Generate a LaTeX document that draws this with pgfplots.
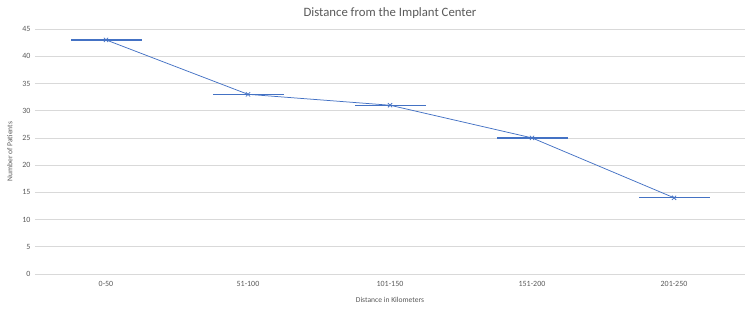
\documentclass[border=0pt]{standalone}
\usepackage{fontspec}
\setmainfont{Carlito}
\usepackage{pgfplots}
\pgfplotsset{compat=1.18}
\definecolor{ser}{HTML}{4472C4}
\definecolor{gridc}{HTML}{D9D9D9}
\definecolor{txt}{HTML}{595959}
\begin{document}
\begin{tikzpicture}
\begin{axis}[
  scale only axis, width=710bp, height=245bp,
  xmin=-0.5, xmax=4.5, ymin=0, ymax=45,
  xtick={0,1,2,3,4},
  xticklabels={0-50,51-100,101-150,151-200,201-250},
  ytick={0,5,...,45},
  ymajorgrids, grid style={gridc, line width=0.75bp},
  axis line style={draw=none},
  major tick length=0pt,
  /pgf/number format/assume math mode=true,
  tick label style={font=\fontsize{8}{9}\selectfont, text=txt},
  xticklabel style={yshift=-4bp},
  yticklabel style={xshift=-1bp},
  title={Distance from the Implant Center},
  title style={font=\fontsize{12.8}{14}\selectfont, text=txt, at={(0.5,1)}, anchor=south, yshift=0.5bp},
  xlabel={Distance in Kilometers},
  ylabel={Number of Patients},
  label style={font=\fontsize{7.6}{9}\selectfont, text=txt},
  xlabel style={at={(0.5,0)}, anchor=north, yshift=-20bp},
  ylabel style={at={(0,0.5)}, anchor=south, yshift=19bp},
  clip=false,
]
\addplot[draw=ser, line width=0.75bp, mark=x, mark size=3bp, mark options={draw=ser, line width=0.75bp},
  error bars/.cd, x dir=both, x explicit, error mark=none,
  error bar style={line width=1.4bp, draw=ser}]
  coordinates {
  (0,43) +- (0.25,0)
  (1,33) +- (0.25,0)
  (2,31) +- (0.25,0)
  (3,25) +- (0.25,0)
  (4,14) +- (0.25,0)
  };
\end{axis}
\path[use as bounding box] (-35bp,-37bp) rectangle (715bp,274bp);
\end{tikzpicture}
\end{document}
